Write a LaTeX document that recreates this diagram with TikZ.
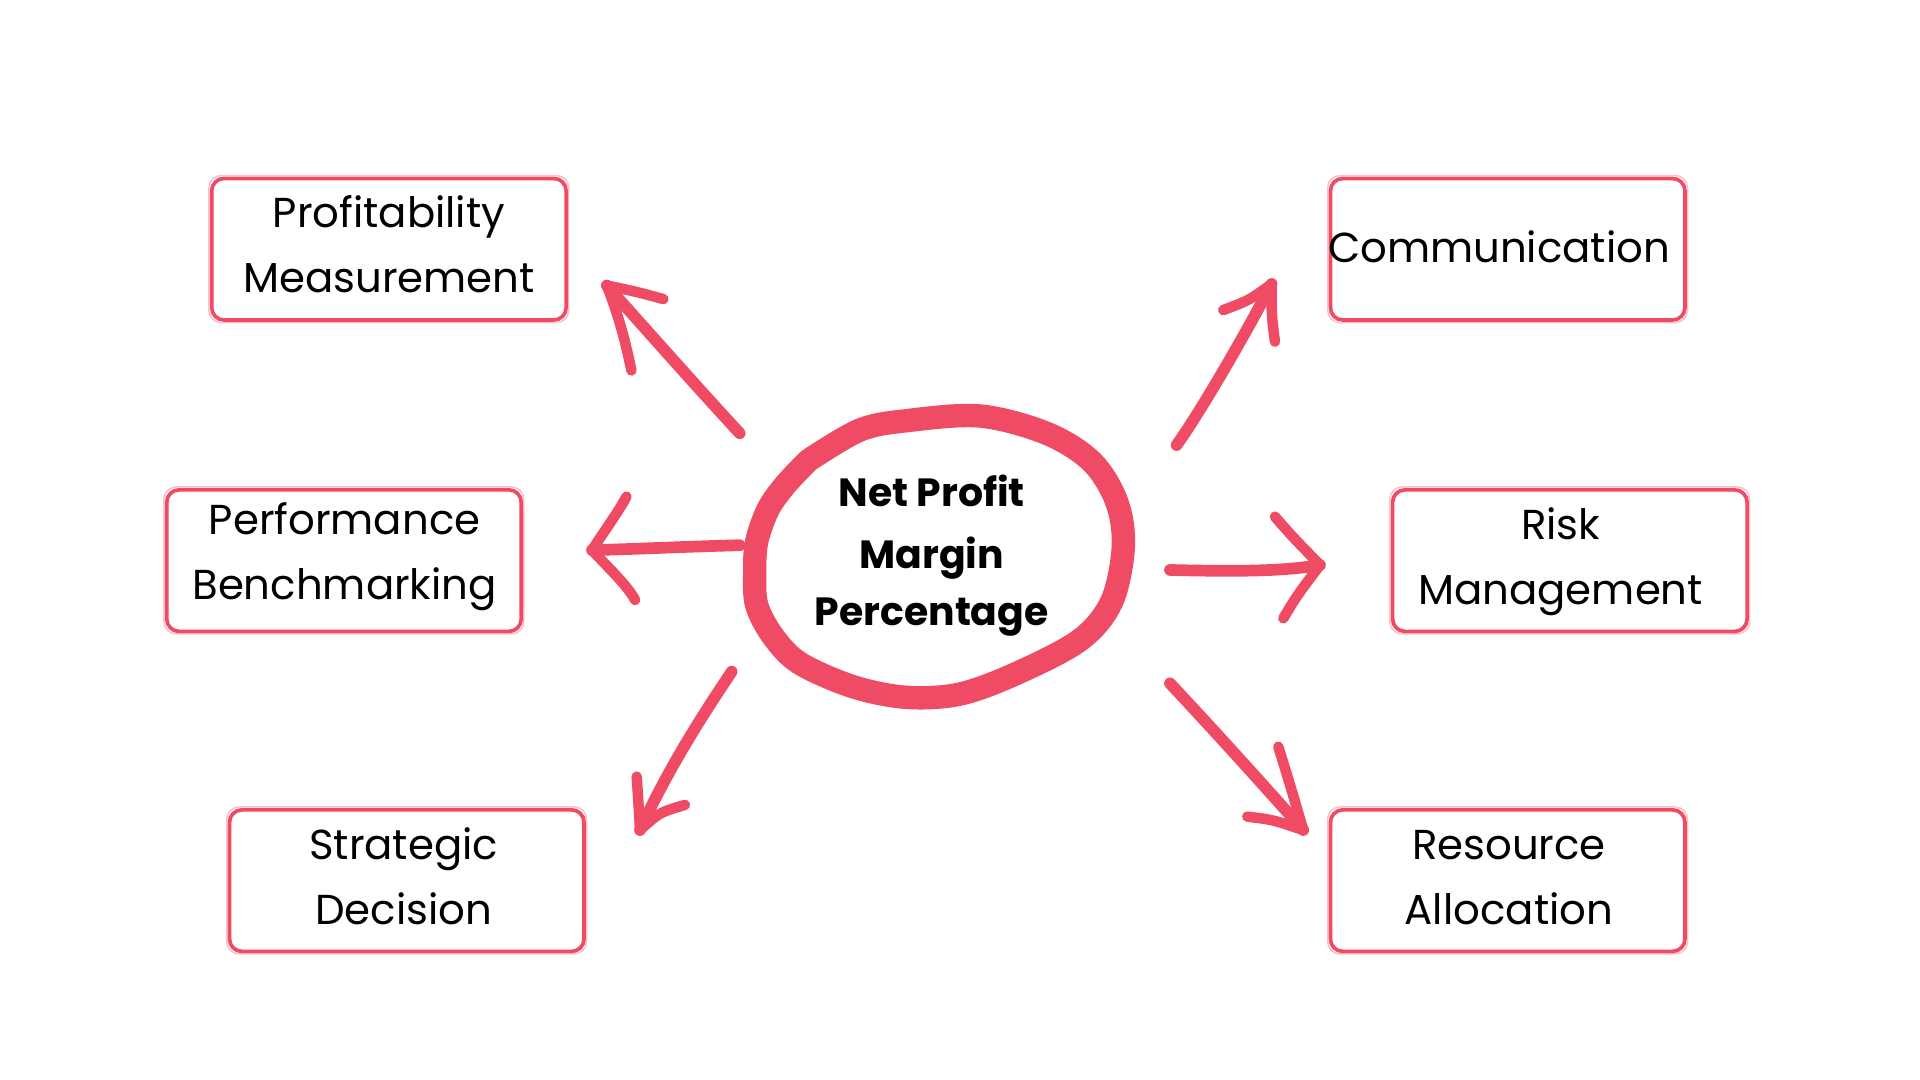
\documentclass[tikz,border=0pt]{standalone}
\usepackage{fontspec}
\setmainfont{Poppins}
\definecolor{brand}{HTML}{EF4B65}
\newcommand\lstr{\rule[-0.77em]{0pt}{1.54em}}
\newcommand\cstr{\rule[-0.72em]{0pt}{1.44em}}
\begin{document}
\begin{tikzpicture}[x=1pt,y=-1pt,
  boxstyle/.style={draw=brand, line width=3pt, rounded corners=10pt, minimum width=288pt, minimum height=115pt, inner sep=0pt},
  boxtwo/.style={draw=brand, line width=1.2pt, rounded corners=10pt, opacity=0.35},
  lbl/.style={font=\fontsize{34}{52.8}\selectfont, align=center, inner sep=0pt, text=black},
  ctr/.style={font=\bfseries\fontsize{32}{46.4}\selectfont, align=center, inner sep=0pt, text=black},
  ring/.style={draw=brand, line width=19pt, line cap=round, line join=round},
  arr/.style={draw=brand, line width=9.5pt, line cap=round, line join=round},
  barb/.style={draw=brand, line width=8.5pt, line cap=round, line join=round},
]
\useasboundingbox (0,0) rectangle (1560,877.5);
\fill[white] (0,0) rectangle (1560,877.5);

% boxes
\node[boxstyle] (b1) at (316,202.5) {};
\node[boxstyle] (b2) at (279.5,455.5) {};
\node[boxstyle] (b3) at (330.5,715.5) {};
\node[boxstyle] (b4) at (1225,202.5) {};
\node[boxstyle] (b5) at (1275.5,455.5) {};
\node[boxstyle] (b6) at (1225,715.5) {};
\foreach \b in {b1,b2,b3,b4,b5,b6}{
  \draw[boxtwo] ([shift={(-0.8,0.6)}]\b.south west) rectangle ([shift={(0.6,-0.9)}]\b.north east);
}

% labels
\node[lbl] (t1) at (316,211.5) {\lstr Profitability\\\lstr Measurement};
\node[lbl] (t2) at (280,461) {\lstr Performance\\\lstr Benchmarking};
\node[lbl] (t3) at (328,725) {\lstr Strategic\\\lstr Decision};
\node[lbl] (t4) at (1218,213) {\lstr Communication};
\node[lbl] (t5) at (1268,465) {\lstr Risk\\\lstr Management};
\node[lbl] (t6) at (1226,725) {\lstr Resource\\\lstr Allocation};

% central ring
\draw[ring] plot[smooth, tension=0.55] coordinates {
  (657,374) (698.7,349.4) (736.7,341.8) (796.3,338.0) (850.4,352.1)
  (887,375.1) (907.3,407.6) (912.7,444.2) (903.2,488.9) (877.5,520)
  (826,547.1) (780,563.9) (736.7,566.6) (693.3,558) (650,539)
  (628.3,517.3) (614.8,491.6) (613.2,464.5) (614.8,440.1) (624,414)
  (638,394) (657,374)};
\node[ctr] (c) at (757,458.6) {\cstr Net Profit\\\cstr Margin\\\cstr Percentage};

% arrow end points
\coordinate (a1s) at (601,352);   \coordinate (a1t) at (493,232);
\coordinate (a2s) at (601,443);   \coordinate (a2t) at (481,447);
\coordinate (a3s) at (594.5,545.7); \coordinate (a3t) at (520,674.4);
\coordinate (a4s) at (956,361.6); \coordinate (a4t) at (1033.2,230.7);
\coordinate (a5s) at (950.6,463.1); \coordinate (a5t) at (1072.5,459);
\coordinate (a6s) at (950.6,555.2); \coordinate (a6t) at (1058.9,674.4);

% arrows
\draw[arr] (a1s) .. controls (565,313) and (527,270) .. (a1t);
\draw[barb] (513,301) .. controls (509,281) and (503,257) .. (a1t) .. controls (517,237) .. (539,243);

\draw[arr] (a2s) .. controls (560,444) and (520,446) .. (a2t);
\draw[barb] (509,403.5) .. controls (503,415) and (492,430) .. (a2t) .. controls (495,462) and (510,476) .. (516,487.5);

\draw[arr] (a3s) .. controls (575,575) and (545,620) .. (a3t);
\draw[barb] (517.3,631) .. controls (518.6,650) .. (a3t) .. controls (536,660) .. (556.5,654);

\draw[arr] (a4s) .. controls (975,335) and (1010,275) .. (a4t);
\draw[barb] (993.9,251.9) .. controls (1015,244) .. (a4t) .. controls (1033,255) .. (1035.9,277.6);

\draw[arr] (a5s) .. controls (990,464) and (1040,465) .. (a5t);
\draw[barb] (1035.9,419.8) .. controls (1050,436) .. (a5t) .. controls (1053,485) .. (1042.7,502.4);

\draw[arr] (a6s) .. controls (985,592) and (1025,636) .. (a6t);
\draw[barb] (1038.6,606.7) .. controls (1048,637) .. (a6t) .. controls (1034,666) .. (1013.4,663.5);
\end{tikzpicture}
\end{document}
